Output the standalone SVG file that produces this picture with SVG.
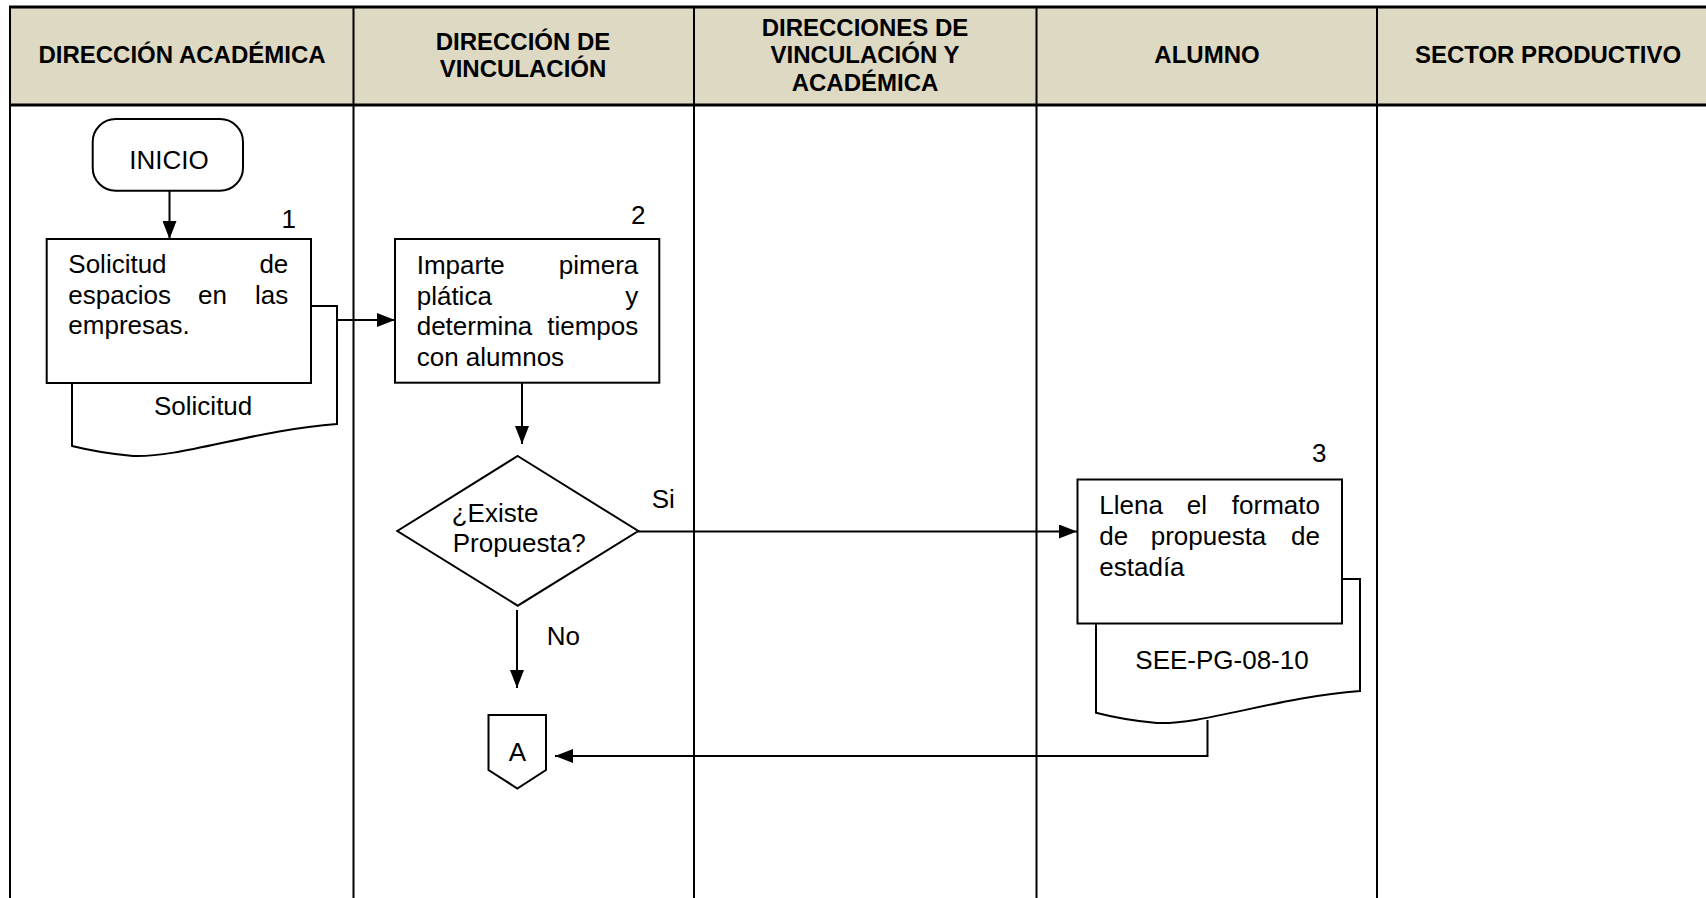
<svg xmlns="http://www.w3.org/2000/svg" width="1706" height="898" viewBox="0 0 1706 898">
<defs>
<style>
.hdr{font-family:"Liberation Sans",Arial,sans-serif;font-weight:bold;font-size:24px;fill:#000;text-anchor:middle}
.t{font-family:"Liberation Sans",Arial,sans-serif;font-size:26px;fill:#000}
.m{text-anchor:middle}
.e{text-anchor:end}
.shape{fill:#fff;stroke:#000;stroke-width:2}
.conn{fill:none;stroke:#000;stroke-width:2}
.grid{stroke:#000;stroke-width:2}
.gridb{stroke:#000;stroke-width:3}
</style>
<marker id="arr" markerUnits="userSpaceOnUse" markerWidth="18" markerHeight="14" refX="18" refY="7" orient="auto">
<path d="M0,0 L18,7 L0,14 z" fill="#000"/>
</marker>
</defs>
<rect width="1706" height="898" fill="#fff"/>
<g id="table">
<rect x="10" y="7" width="1700" height="98" fill="#DDD9C3"/>
<line class="gridb" x1="9" y1="7" x2="1706" y2="7"/>
<line class="gridb" x1="9" y1="105" x2="1706" y2="105"/>
<line class="grid" x1="10" y1="6" x2="10" y2="898"/>
<line class="grid" x1="353.5" y1="6" x2="353.5" y2="898"/>
<line class="grid" x1="694" y1="6" x2="694" y2="898"/>
<line class="grid" x1="1036.5" y1="6" x2="1036.5" y2="898"/>
<line class="grid" x1="1377" y1="6" x2="1377" y2="898"/>
<text class="hdr" x="182" y="63">DIRECCIÓN ACADÉMICA</text>
<text class="hdr" x="523" y="50">DIRECCIÓN DE</text>
<text class="hdr" x="523" y="77">VINCULACIÓN</text>
<text class="hdr" x="865" y="36">DIRECCIONES DE</text>
<text class="hdr" x="865" y="63">VINCULACIÓN Y</text>
<text class="hdr" x="865" y="91">ACADÉMICA</text>
<text class="hdr" x="1207" y="63">ALUMNO</text>
<text class="hdr" x="1548" y="63">SECTOR PRODUCTIVO</text>
</g>
<g id="connectors">
<line class="conn" x1="169.5" y1="191" x2="169.5" y2="239" marker-end="url(#arr)"/>
<line class="conn" x1="337" y1="320" x2="395" y2="320" marker-end="url(#arr)"/>
<line class="conn" x1="522" y1="383" x2="522" y2="444" marker-end="url(#arr)"/>
<line class="conn" x1="638" y1="531.5" x2="1077" y2="531.5" marker-end="url(#arr)"/>
<line class="conn" x1="517" y1="610" x2="517" y2="688" marker-end="url(#arr)"/>
<polyline class="conn" points="1207.5,720 1207.5,756 555,756" marker-end="url(#arr)"/>
<text class="t" x="651.7" y="508">Si</text>
<text class="t" x="546.7" y="645">No</text>
</g>
<g id="inicio">
<rect class="shape" x="92.7" y="119" width="150.3" height="71.7" rx="23"/>
<text class="t m" x="169" y="169.3">INICIO</text>
</g>
<g id="paso1">
<path class="shape" d="M72,306 L337,306 L337,424 C255,430 180,458 133,456 Q100,453 72,446 Z"/>
<rect class="shape" x="46.7" y="239" width="264.3" height="144"/>
<text class="t" x="281.5" y="228">1</text>
<text class="t" x="68.3" y="273">Solicitud</text>
<text class="t e" x="288.3" y="273">de</text>
<text class="t" x="68.3" y="303.5">espacios</text>
<text class="t" x="198" y="303.5">en</text>
<text class="t e" x="288.3" y="303.5">las</text>
<text class="t" x="68.3" y="334">empresas.</text>
<text class="t" x="154" y="415">Solicitud</text>
</g>
<g id="paso2">
<rect class="shape" x="395" y="239" width="264.3" height="143.7"/>
<text class="t" x="631" y="224">2</text>
<text class="t" x="416.7" y="274">Imparte</text>
<text class="t e" x="638.3" y="274">pimera</text>
<text class="t" x="416.7" y="304.5">plática</text>
<text class="t e" x="638.3" y="304.5">y</text>
<text class="t" x="416.7" y="335">determina</text>
<text class="t e" x="638.3" y="335">tiempos</text>
<text class="t" x="416.7" y="365.5">con alumnos</text>
</g>
<g id="decision">
<polygon class="shape" points="517.7,456 638.3,531 517.7,605.7 397.3,531"/>
<text class="t" x="451.7" y="521.7">¿Existe</text>
<text class="t" x="452.7" y="551.7">Propuesta?</text>
</g>
<g id="paso3">
<path class="shape" d="M1096,579 L1360,579 L1360,691 C1278,697 1203,725 1157,723 Q1124,720 1096,712.7 Z"/>
<rect class="shape" x="1077.5" y="479.5" width="264.5" height="144"/>
<text class="t" x="1312" y="462.3">3</text>
<text class="t" x="1099.3" y="514">Llena</text>
<text class="t" x="1186.7" y="514">el</text>
<text class="t e" x="1320" y="514">formato</text>
<text class="t" x="1099.3" y="545">de</text>
<text class="t" x="1150.7" y="545">propuesta</text>
<text class="t e" x="1320" y="545">de</text>
<text class="t" x="1099.3" y="576">estadía</text>
<text class="t m" x="1222" y="669">SEE-PG-08-10</text>
</g>
<g id="conectorA">
<polygon class="shape" points="488.5,715 546,715 546,770 517.3,788.5 488.5,770"/>
<text class="t m" x="517.3" y="760.7">A</text>
</g>
</svg>
